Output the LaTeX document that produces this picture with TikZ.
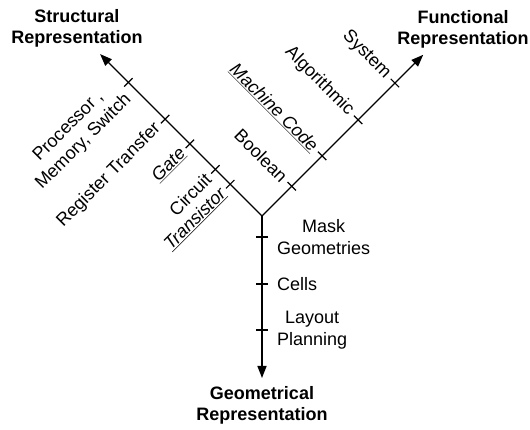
\documentclass[tikz,border=0pt]{standalone}
\usepackage{fontspec}
\setmainfont{Liberation Sans}
\usetikzlibrary{arrows.meta,calc}
\tikzset{
  axis/.style={line width=1.4pt,-{Triangle[length=12pt,width=9pt]}},
  tickmark/.style={line width=1.2pt},
  lab/.style={inner sep=0pt,align=center,font=\fontsize{18pt}{21.5pt}\selectfont},
  title/.style={inner sep=0pt,align=center,font=\fontsize{18pt}{21pt}\selectfont\bfseries},
}
\newcommand{\ulit}[1]{\underline{\itshape #1}}
\begin{document}
\begin{tikzpicture}
\useasboundingbox (-262pt,-214pt) rectangle (268pt,216pt);
\coordinate (O) at (0,0);
\coordinate (S) at (135:229pt);
\coordinate (F) at (45:228pt);
\coordinate (G) at (270:162pt);
\draw[axis] (O) -- (S);
\draw[axis] (O) -- (F);
\draw[axis] (O) -- (G);
% ticks
\foreach \d in {189,137,102,66,45}
  \draw[tickmark] (135:\d pt) ++(45:6pt) -- ++(225:12pt);
\foreach \d in {188,136,85,42}
  \draw[tickmark] (45:\d pt) ++(135:6pt) -- ++(-45:12pt);
\foreach \d in {21,68,114}
  \draw[tickmark] (270:\d pt) ++(-6pt,0) -- ++(12pt,0);
% structural labels
\node[lab,rotate=45,anchor=east] (s1) at ($(135:189pt)+(225:10pt)$) {Processor ,\\Memory, Switch};
\node[lab,rotate=45,anchor=east] (s2) at ($(135:137pt)+(225:10pt)$) {Register Transfer};
\node[lab,rotate=45,anchor=east] (s3) at ($(135:102pt)+(225:10pt)$) {\ulit{Gate}};
\node[lab,rotate=45,anchor=east] (s4) at ($(135:66pt)+(225:10pt)$) {Circuit};
\node[lab,rotate=45,anchor=east] (s5) at ($(135:45pt)+(225:10pt)$) {\ulit{Transistor}};
% functional labels
\node[lab,rotate=-45,anchor=east] (f1) at ($(45:188pt)+(135:10pt)$) {System};
\node[lab,rotate=-45,anchor=east] (f2) at ($(45:136pt)+(135:10pt)$) {Algorithmic};
\node[lab,rotate=-45,anchor=east] (f3) at ($(45:85pt)+(135:10pt)$) {\ulit{Machine Code}};
\node[lab,rotate=-45,anchor=east] (f4) at ($(45:42pt)+(135:10pt)$) {Boolean};
% geometrical labels
\node[lab,anchor=west] (g1) at ($(270:21pt)+(15pt,0)$) {Mask\\Geometries};
\node[lab,anchor=west] (g2) at ($(270:68pt)+(15pt,0)$) {Cells};
\node[lab,anchor=west] (g3) at ($(270:114pt)+(15pt,0)$) {Layout\\Planning};
% titles
\node[title] (ts) at (-185pt,188pt) {Structural\\Representation};
\node[title] (tf) at (201pt,187pt) {Functional\\Representation};
\node[title] (tg) at (0pt,-189pt) {Geometrical\\Representation};
\end{tikzpicture}
\end{document}
